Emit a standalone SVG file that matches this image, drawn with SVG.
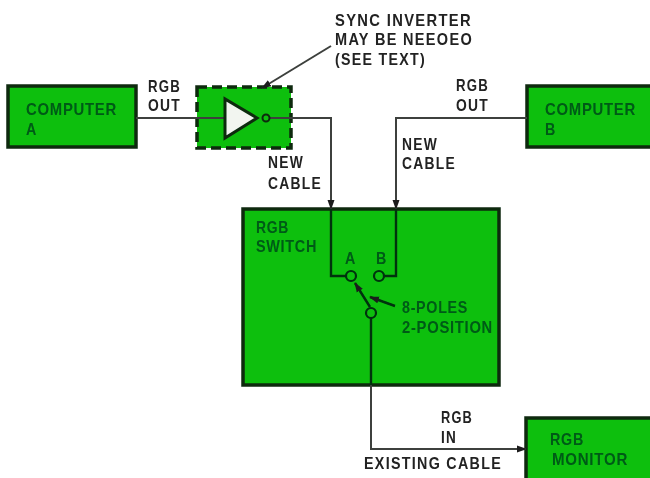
<svg xmlns="http://www.w3.org/2000/svg" width="650" height="478" viewBox="0 0 650 478">
<style>
text{font-family:"Liberation Sans",Arial,sans-serif;font-weight:700;font-size:16.5px;letter-spacing:1.5px;fill:#222}
.g text{fill:#045a14;letter-spacing:.8px}
.box{fill:#09bf10;stroke:#0b2a10;stroke-width:3.5}
.w{fill:none;stroke:#3c3f3c;stroke-width:2}
.wi{fill:none;stroke:#06300e;stroke-width:2.4}
.c{fill:#09bf10;stroke:#06300e;stroke-width:2.2}
</style>
<defs>
<filter id="s" x="-2%" y="-2%" width="104%" height="104%"><feGaussianBlur stdDeviation="0.5"/></filter>
<marker id="a" markerWidth="10" markerHeight="8" refX="9" refY="4" orient="auto" markerUnits="userSpaceOnUse"><path d="M0 0.5L10 4L0 7.5Z" fill="#1c1f1c"/></marker>
</defs>
<rect width="650" height="478" fill="#fff"/>
<g filter="url(#s)">
<g id="computer-a" class="g"><rect class="box" x="8" y="86" width="128" height="61"/><text x="26" y="115" textLength="91" lengthAdjust="spacingAndGlyphs">COMPUTER</text><text x="26" y="135" textLength="11" lengthAdjust="spacingAndGlyphs">A</text></g>
<g id="inverter"><rect x="197" y="87" width="94" height="61" fill="#09bf10" stroke="#0b2a10" stroke-width="3.5" stroke-dasharray="10 5"/></g>
<g id="computer-b" class="g"><rect class="box" x="527" y="86" width="130" height="61"/><text x="545" y="115" textLength="91" lengthAdjust="spacingAndGlyphs">COMPUTER</text><text x="545" y="135" textLength="11" lengthAdjust="spacingAndGlyphs">B</text></g>
<g id="rgb-switch" class="g"><rect class="box" x="243" y="209" width="256" height="176"/><text x="256" y="233" textLength="33" lengthAdjust="spacingAndGlyphs">RGB</text><text x="256" y="252" textLength="61" lengthAdjust="spacingAndGlyphs">SWITCH</text><text x="345" y="264" textLength="11" lengthAdjust="spacingAndGlyphs">A</text><text x="376" y="264" textLength="11" lengthAdjust="spacingAndGlyphs">B</text><text x="402" y="313" textLength="66" lengthAdjust="spacingAndGlyphs">8-POLES</text><text x="402" y="333" textLength="91" lengthAdjust="spacingAndGlyphs">2-POSITION</text></g>
<g id="rgb-monitor" class="g"><rect class="box" x="526" y="418" width="130" height="64"/><text x="550" y="445" textLength="34" lengthAdjust="spacingAndGlyphs">RGB</text><text x="552" y="465" textLength="76" lengthAdjust="spacingAndGlyphs">MONITOR</text></g>
<g id="connectors">
<path class="w" d="M136 118H225"/>
<path class="w" d="M270 118H331V209" marker-end="url(#a)"/>
<path class="w" d="M527 118H396V209" marker-end="url(#a)"/>
<path class="w" d="M371 385V449H526" marker-end="url(#a)"/>
<path class="w" d="M331 46L262 88" marker-end="url(#a)"/>
<path class="wi" d="M331 209V276H346M384 276H396V209M371 318V385"/>
<path class="wi" d="M370 307L355 283" marker-end="url(#a)"/>
<path class="wi" d="M395 306L370 297" marker-end="url(#a)"/>
<polygon points="225,99 225,138 257,118" fill="#f2f5f0" stroke="#0b2a10" stroke-width="3"/>
<circle cx="266" cy="118" r="3.5" fill="#09bf10" stroke="#0b2a10" stroke-width="2"/>
<circle class="c" cx="351" cy="276" r="5"/><circle class="c" cx="379" cy="276" r="5"/><circle class="c" cx="371" cy="313" r="5"/>
</g>
<text x="148" y="92" textLength="33" lengthAdjust="spacingAndGlyphs">RGB</text><text x="148" y="111" textLength="33" lengthAdjust="spacingAndGlyphs">OUT</text>
<text x="268" y="168" textLength="36" lengthAdjust="spacingAndGlyphs">NEW</text><text x="268" y="189" textLength="54" lengthAdjust="spacingAndGlyphs">CABLE</text>
<text x="335" y="26" textLength="137" lengthAdjust="spacingAndGlyphs">SYNC INVERTER</text><text x="335" y="45" textLength="138" lengthAdjust="spacingAndGlyphs">MAY BE NEEOEO</text><text x="335" y="65" textLength="91" lengthAdjust="spacingAndGlyphs">(SEE TEXT)</text>
<text x="456" y="91" textLength="33" lengthAdjust="spacingAndGlyphs">RGB</text><text x="456" y="111" textLength="33" lengthAdjust="spacingAndGlyphs">OUT</text>
<text x="402" y="150" textLength="36" lengthAdjust="spacingAndGlyphs">NEW</text><text x="402" y="169" textLength="54" lengthAdjust="spacingAndGlyphs">CABLE</text>
<text x="441" y="423" textLength="32" lengthAdjust="spacingAndGlyphs">RGB</text><text x="441" y="443" textLength="16" lengthAdjust="spacingAndGlyphs">IN</text>
<text x="364" y="469" textLength="138" lengthAdjust="spacingAndGlyphs">EXISTING CABLE</text>
</g>
</svg>
